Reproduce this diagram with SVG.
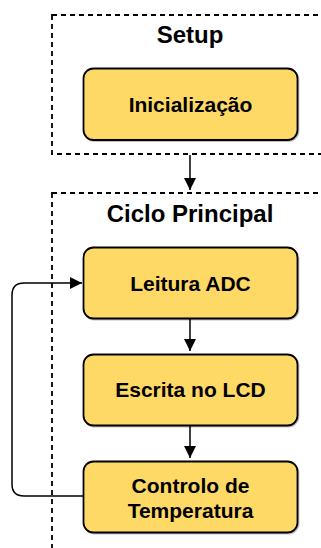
<svg xmlns="http://www.w3.org/2000/svg" width="321" height="548" viewBox="0 0 321 548">
  <style>
    .group { fill: none; stroke: #000; stroke-width: 1.8; stroke-dasharray: 5 4; }
    .title { font-family: "Liberation Sans", Arial, sans-serif; font-weight: bold; font-size: 24px; fill: #000; text-anchor: middle; }
    .box { fill: #FFD966; stroke: #000; stroke-width: 1.8; }
    .label { font-family: "Liberation Sans", Arial, sans-serif; font-weight: bold; font-size: 21px; fill: #000; text-anchor: middle; }
    .edge { fill: none; stroke: #000; stroke-width: 1.5; }
  </style>
  <defs>
    <marker id="arrow" viewBox="0 0 12 12" refX="12" refY="6" markerWidth="12" markerHeight="12" markerUnits="userSpaceOnUse" orient="auto">
      <path d="M0,0 L12,6 L0,12 Z" fill="#000"/>
    </marker>
    <filter id="shadow" x="-10%" y="-10%" width="130%" height="130%">
      <feDropShadow dx="1" dy="1" stdDeviation="0.6" flood-color="#000" flood-opacity="0.25"/>
    </filter>
  </defs>

  <rect width="321" height="548" fill="#fff"/>

  <!-- Setup section -->
  <g id="setup">
    <rect class="group" x="52" y="15" width="300" height="139"/>
    <text class="title" x="190" y="43">Setup</text>
  </g>

  <!-- Main loop section -->
  <g id="ciclo">
    <rect class="group" x="52" y="193" width="300" height="400"/>
    <text class="title" x="190" y="221.5">Ciclo Principal</text>
  </g>

  <g id="inicializacao">
    <rect class="box" filter="url(#shadow)" x="83.5" y="68.5" width="214" height="71.5" rx="10"/>
    <text class="label" x="190.5" y="111.8">Inicialização</text>
  </g>

  <g id="leitura">
    <rect class="box" filter="url(#shadow)" x="83.5" y="247.5" width="214" height="71" rx="10"/>
    <text class="label" x="190.5" y="290.6">Leitura ADC</text>
  </g>

  <g id="escrita">
    <rect class="box" filter="url(#shadow)" x="83.5" y="354.5" width="214" height="71" rx="10"/>
    <text class="label" x="190.5" y="397.4">Escrita no LCD</text>
  </g>

  <g id="controlo">
    <rect class="box" filter="url(#shadow)" x="83.5" y="461.5" width="214" height="71" rx="10"/>
    <text class="label" x="190.5" y="492.8">Controlo de</text>
    <text class="label" x="190.5" y="517.8">Temperatura</text>
  </g>

  <!-- Connectors -->
  <g id="connectors">
    <path class="edge" d="M190,155 L190,190" marker-end="url(#arrow)"/>
    <path class="edge" d="M190,318.5 L190,351" marker-end="url(#arrow)"/>
    <path class="edge" d="M190,425.5 L190,458" marker-end="url(#arrow)"/>
    <path class="edge" d="M83.5,496 L24,496 Q12,496 12,484 L12,295 Q12,283 24,283 L82,283" marker-end="url(#arrow)"/>
  </g>
</svg>
